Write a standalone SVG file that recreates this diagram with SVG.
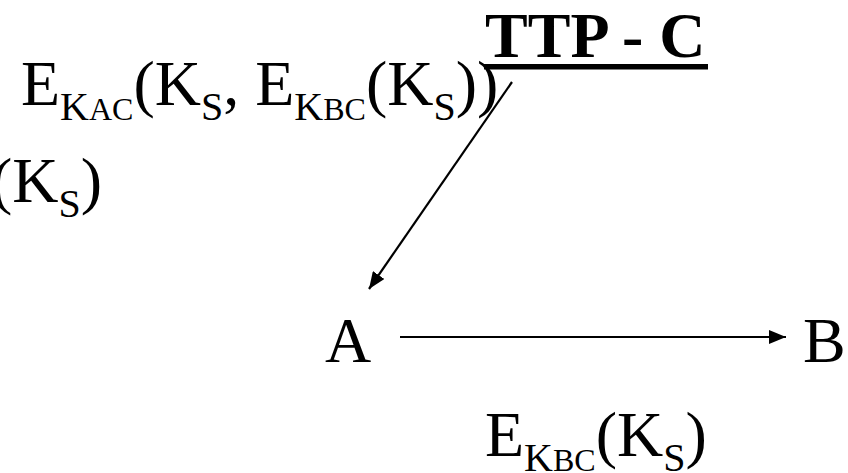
<svg xmlns="http://www.w3.org/2000/svg" width="848" height="473" viewBox="0 0 848 473">
<style>
text { font-family: "Liberation Serif", "Times New Roman", serif; fill: #000; font-size: 64px; }
.b { font-weight: bold; }
.s1 { font-size: 40px; }
.s2 { font-size: 32px; }
.conn { stroke: #000; stroke-width: 2.2; fill: none; }
</style>
<defs>
<marker id="ah" viewBox="0 0 17 14" refX="17" refY="7" markerWidth="17" markerHeight="14" markerUnits="userSpaceOnUse" orient="auto">
<path d="M0,0 L17,7 L0,14 z" fill="#000"/>
</marker>
</defs>
<rect width="848" height="473" fill="#fff"/>
<g id="node-ttp">
<text class="b" x="485" y="57">TTP - C</text>
<rect x="484" y="64" width="224" height="5.5" fill="#000"/>
</g>
<g id="node-a"><text x="325" y="362">A</text></g>
<g id="node-b"><text x="803" y="362">B</text></g>
<g id="connectors">
<line class="conn" x1="512" y1="82" x2="369" y2="289" marker-end="url(#ah)"/>
<line class="conn" x1="400" y1="337" x2="786" y2="337" marker-end="url(#ah)"/>
</g>
<g id="labels">
<text x="21" y="105">E<tspan class="s1" dy="15">K</tspan><tspan class="s2">AC</tspan><tspan dy="-15">(K</tspan><tspan class="s1" dy="15">S</tspan><tspan dy="-15">, E</tspan><tspan class="s1" dy="15">K</tspan><tspan class="s2">BC</tspan><tspan dy="-15">(K</tspan><tspan class="s1" dy="15">S</tspan><tspan dy="-15">))</tspan></text>
<text x="-9" y="202">(K<tspan class="s1" dy="15">S</tspan><tspan dy="-15">)</tspan></text>
<text x="485" y="456">E<tspan class="s1" dy="15">K</tspan><tspan class="s2">BC</tspan><tspan dy="-15">(K</tspan><tspan class="s1" dy="15">S</tspan><tspan dy="-15">)</tspan></text>
</g>
</svg>
